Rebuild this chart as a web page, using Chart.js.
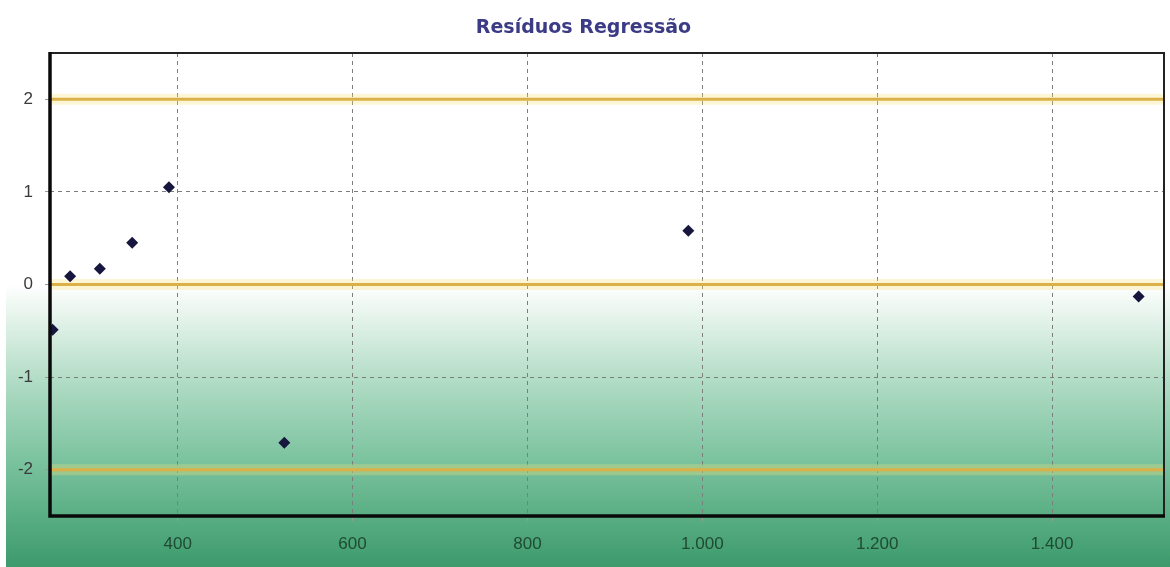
<!DOCTYPE html>
<html>
<head>
<meta charset="utf-8">
<script src="https://cdn.jsdelivr.net/npm/chart.js@4/dist/chart.umd.min.js"></script>
<style>
html,body{margin:0;padding:0;background:#fff;}
#wrap{width:1170px;height:567px;}
</style>
</head>
<body>
<div id="wrap"><canvas id="c" width="1170" height="567"></canvas></div>
<script>
const chartTitle = 'Resíduos Regressão';
const xValues = [257, 277, 311, 348, 390, 522, 984, 1499];
const yValues = [-0.49, 0.09, 0.17, 0.45, 1.05, -1.71, 0.58, -0.13];
const refLevels = [2, 0, -2];
const xTicks = [400, 600, 800, 1000, 1200, 1400];
const yTicks = [-2, -1, 0, 1, 2];
const xMin = 254, xMax = 1528;
const yMin = -2.5, yMax = 2.5;

const points = xValues.map((x, i) => ({x: x, y: yValues[i]}));
const refSets = [];
refLevels.forEach(v => {
  refSets.push({type:'line', data:[{x:xMin,y:v},{x:xMax,y:v}], borderColor:'rgba(250,225,120,0.3)', borderWidth:11, pointRadius:0, order:3});
  refSets.push({type:'line', data:[{x:xMin,y:v},{x:xMax,y:v}], borderColor:'#dcb048', borderWidth:3, pointRadius:0, order:2});
});

const bgPlugin = {
  id:'bg',
  beforeDraw(chart){
    const ctx = chart.ctx, w = chart.width, h = chart.height;
    ctx.save();
    ctx.fillStyle = '#ffffff';
    ctx.fillRect(0,0,w,h);
    const y0 = chart.scales.y.getPixelForValue(0);
    const g = ctx.createLinearGradient(0, y0, 0, h);
    g.addColorStop(0, '#ffffff');
    g.addColorStop(0.12, '#e4f3ea');
    g.addColorStop(0.35, '#afdbc4');
    g.addColorStop(0.65, '#76c09b');
    g.addColorStop(1, '#3c9a6b');
    ctx.fillStyle = g;
    ctx.fillRect(6, y0, w-6, h-y0);
    ctx.restore();
  },
  afterDraw(chart){
    const a = chart.chartArea, ctx = chart.ctx;
    ctx.save();
    ctx.strokeStyle = '#222';
    ctx.lineWidth = 2;
    ctx.beginPath();
    ctx.moveTo(a.left, a.top); ctx.lineTo(a.right, a.top); ctx.lineTo(a.right, a.bottom);
    ctx.stroke();
    ctx.strokeStyle = '#0a0a0a';
    ctx.lineWidth = 3.5;
    ctx.beginPath();
    ctx.moveTo(a.left, a.top-1); ctx.lineTo(a.left, a.bottom); ctx.lineTo(a.right+1, a.bottom);
    ctx.stroke();
    ctx.restore();
  }
};

new Chart(document.getElementById('c'), {
  type:'scatter',
  data:{
    datasets:[
      ...refSets,
      {type:'scatter', data:points, pointStyle:'rectRot', pointRadius:6, pointHoverRadius:6, backgroundColor:'#16163e', borderColor:'#16163e', borderWidth:0, order:1}
    ]
  },
  options:{
    responsive:false,
    animation:false,
    events:[],
    layout:{padding:{left:0, right:3, top:0, bottom:0}},
    plugins:{
      legend:{display:false},
      tooltip:{enabled:false},
      title:{display:true, text:chartTitle, color:'#3b3b86', font:{family:'DejaVu Sans', size:19, weight:'bold'}, padding:{top:17, bottom:13.2}}
    },
    scales:{
      x:{
        type:'linear', min:xMin, max:xMax,
        afterBuildTicks(s){ s.ticks = xTicks.map(v=>({value:v})); },
        afterFit(s){ s.height = 51; },
        ticks:{color:'#1f4a33', font:{family:'Liberation Sans', size:17}, padding:13, maxRotation:0,
          callback:(v)=> String(v).replace(/\B(?=(\d{3})+(?!\d))/g,'.')},
        grid:{color:'#7d7d7d', lineWidth:1, tickLength:5, tickColor:'#999'},
        border:{display:false, dash:[4,4]}
      },
      y:{
        type:'linear', min:yMin, max:yMax,
        afterBuildTicks(s){ s.ticks = yTicks.map(v=>({value:v})); },
        afterFit(s){ s.width = 50; },
        ticks:{color:'#3a3a3a', font:{family:'Liberation Sans', size:17}, padding:12},
        grid:{color:(c)=> (c.tick && refLevels.includes(c.tick.value)) ? 'rgba(0,0,0,0)' : '#7d7d7d', lineWidth:1, tickLength:5, tickColor:'#999'},
        border:{display:false, dash:[4,4]}
      }
    }
  },
  plugins:[bgPlugin]
});
</script>
</body>
</html>
